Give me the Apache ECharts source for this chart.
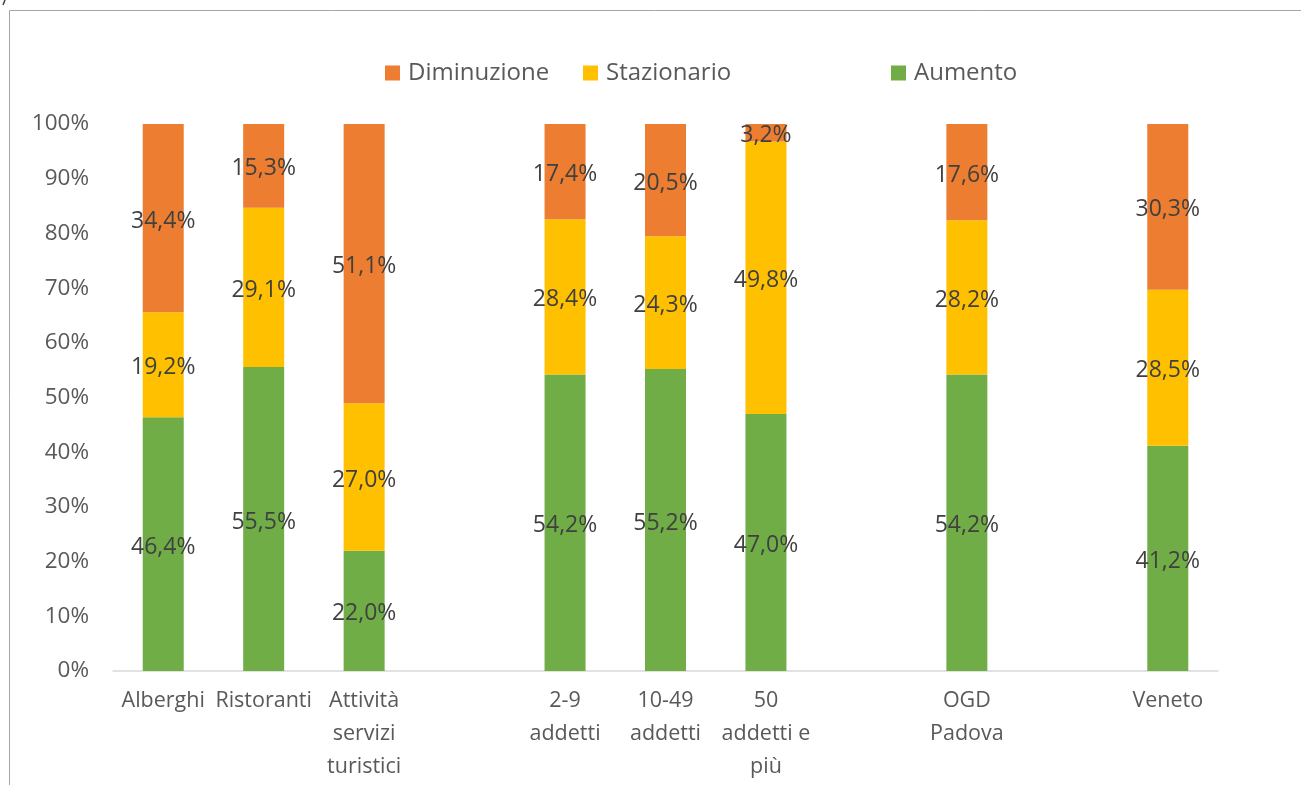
<!DOCTYPE html>
<html>
<head>
<meta charset="utf-8">
<script src="https://cdn.jsdelivr.net/npm/echarts@6/dist/echarts.min.js"></script>
<style>
  html, body { margin: 0; padding: 0; background: #fff; }
  #main { width: 1301px; height: 785px; }
</style>
</head>
<body>
<div id="main"></div>
<script>
// categorie (le stringhe vuote sono gli spazi tra i gruppi)
var categories = ['Alberghi', 'Ristoranti', 'Attività\nservizi\nturistici', '',
  '2-9\naddetti', '10-49\naddetti', '50\naddetti e\npiù', '', 'OGD\nPadova', '', 'Veneto'];

var aumento     = [46.4, 55.5, 22.0, null, 54.2, 55.2, 47.0, null, 54.2, null, 41.2];
var stazionario = [19.2, 29.1, 27.0, null, 28.4, 24.3, 49.8, null, 28.2, null, 28.5];
var diminuzione = [34.4, 15.3, 51.1, null, 17.4, 20.5, 3.2, null, 17.6, null, 30.3];

var yTicks = [0, 10, 20, 30, 40, 50, 60, 70, 80, 90, 100];

var FONT = 'Open Sans';

var chart = echarts.init(document.getElementById('main'));

function pct(v) {
  return v.toFixed(1).replace('.', ',') + '%';
}

// barre al 100%: altezza normalizzata sul totale, etichetta col valore originale
function normalize(arr) {
  return arr.map(function (v, i) {
    if (v == null) return null;
    var tot = aumento[i] + stazionario[i] + diminuzione[i];
    return { value: v / tot * 100, raw: v };
  });
}

function barSeries(name, data, color) {
  return {
    name: name,
    type: 'bar',
    stack: 'tot',
    barWidth: 41,
    data: normalize(data),
    itemStyle: { color: color },
    label: {
      show: true,
      position: 'inside',
      offset: [0, 3],
      color: '#404040',
      fontFamily: FONT,
      fontSize: 23,
      formatter: function (p) { return pct(p.data.raw); }
    }
  };
}

function legendAt(left, name) {
  return {
    left: left,
    top: 56,
    itemWidth: 15,
    itemHeight: 15,
    icon: 'rect',
    data: [name],
    textStyle: { color: '#595959', fontFamily: FONT, fontSize: 24, padding: [0, 0, 0, 3] }
  };
}

var option = {
  animation: false,
  graphic: [
    {
      type: 'rect',
      shape: { x: 9.5, y: 10.5, width: 1400, height: 900 },
      style: { fill: 'none', stroke: '#a6a6a6', lineWidth: 1 }
    },
    {
      type: 'line',
      shape: { x1: 5, y1: 0, x2: 3, y2: 5 },
      style: { stroke: '#404040', lineWidth: 1.5 }
    }
  ],
  legend: [
    legendAt(380, 'Diminuzione'),
    legendAt(578, 'Stazionario'),
    legendAt(886, 'Aumento')
  ],
  grid: { left: 113, right: 83, top: 124, bottom: 114 },
  xAxis: {
    type: 'category',
    data: categories,
    axisTick: { show: false },
    axisLine: { lineStyle: { color: '#d9d9d9', width: 1.5 } },
    axisLabel: {
      interval: 0,
      color: '#595959',
      fontFamily: FONT,
      fontSize: 21.5,
      lineHeight: 33,
      margin: 13
    }
  },
  yAxis: {
    type: 'value',
    min: 0,
    max: 100,
    interval: 10,
    splitLine: { show: false },
    axisLabel: {
      color: '#595959',
      fontFamily: FONT,
      fontSize: 22.5,
      margin: 24,
      formatter: function (v) { return yTicks.indexOf(v) >= 0 ? v + '%' : ''; }
    }
  },
  series: [
    barSeries('Aumento', aumento, '#70ad47'),
    barSeries('Stazionario', stazionario, '#ffc000'),
    barSeries('Diminuzione', diminuzione, '#ed7d31')
  ]
};

chart.setOption(option);
</script>
</body>
</html>
